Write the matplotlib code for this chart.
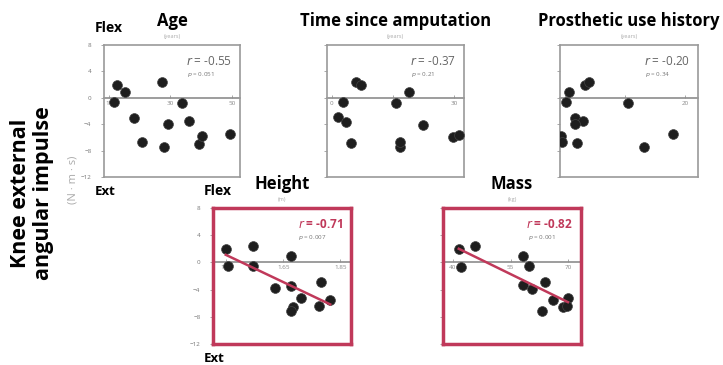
#!/usr/bin/env python3
"""
Knee external angular impulse vs. subject characteristics
"""
import matplotlib.pyplot as plt
import numpy as np

plt.rcParams['font.family'] = ['Open Sans', 'DejaVu Sans']

# ---- data ----
age_x = [11.6, 12.7, 15.1, 18.2, 20.7, 27.3, 28.0, 29.3, 33.8, 36.0, 39.3, 40.4, 49.3]
age_y = [-0.65, 2.0, 0.9, -3.1, -6.7, 2.35, -7.5, -4.0, -0.85, -3.5, -6.95, -5.8, -5.5]

time_x = [2.7, 6.0, 7.2, 1.6, 3.4, 4.6, 15.65, 18.8, 16.6, 16.6, 22.4, 29.7, 31.2]
time_y = [-0.6, 2.35, 1.95, -2.95, -3.6, -6.8, -0.85, 0.9, -7.5, -6.65, -4.1, -5.9, -5.6]

pros_x = [0.17, 0.67, 3.4, 4.05, 1.67, 3.05, 1.67, -0.67, -0.45, 2.05, 10.45, 18.05, 13.2]
pros_y = [-0.6, 0.9, 1.95, 2.35, -3.0, -3.5, -4.0, -5.8, -6.65, -6.9, -0.85, -5.5, -7.5]

height_x = [1.448, 1.454, 1.544, 1.544, 1.621, 1.677, 1.677, 1.713, 1.685, 1.677,
            1.774, 1.783, 1.815]
height_y = [1.97, -0.59, 2.35, -0.59, -3.77, 0.99, -3.43, -5.24, -6.56, -7.2,
            -6.47, -2.88, -5.49]

mass_x = [41.5, 42.2, 45.8, 58.3, 59.8, 58.3, 60.5, 63.9, 63.1, 66.1, 68.7, 69.9, 69.6]
mass_y = [1.97, -0.74, 2.35, 0.99, -0.59, -3.28, -3.91, -2.94, -7.2, -5.49, -6.56,
          -5.24, -6.37]

titles = ['Age', 'Time since amputation', 'Prosthetic use history', 'Height', 'Mass']
units = ['(years)', '(years)', '(years)', '(m)', '(kg)']
r_text = ['-0.55', '-0.37', '-0.20', '-0.71', '-0.82']
p_text = ['0.051', '0.21', '0.34', '0.007', '0.001']
x_ticks = [[10, 30, 50], [0, 15, 30], [0, 10, 20], [1.45, 1.65, 1.85], [40, 55, 70]]
x_ticklabels = [['10', '30', '50'], ['0', '15', '30'], ['0', '10', '20'],
                ['1.45', '1.65', '1.85'], ['40', '55', '70']]
x_lims = [(8.4, 52.6), (-1.2, 32.4), (-0.83, 22.2), (1.403, 1.888), (37.4, 73.3)]
y_ticks = [8, 4, 0, -4, -8, -12]

CRIMSON = '#c0395a'
GRAY = '#9a9a9a'
W, H = 723.0, 365.0


def px_rect(left, top, right, bottom):
    return [left / W, 1 - bottom / H, (right - left) / W, (bottom - top) / H]


def main():
    fig = plt.figure(figsize=(7.23, 3.65), dpi=100)
    rects = [px_rect(104, 45, 240, 177), px_rect(327, 45, 464, 177),
             px_rect(560, 45, 698, 177), px_rect(213, 208, 351, 344),
             px_rect(443, 208, 581, 344)]
    xs = [age_x, time_x, pros_x, height_x, mass_x]
    ys = [age_y, time_y, pros_y, height_y, mass_y]
    significant = [False, False, False, True, True]
    with_labels = [True, False, False, True, False]

    for i in range(5):
        ax = fig.add_axes(rects[i])
        ax.set_xlim(*x_lims[i])
        ax.set_ylim(-12, 8)
        ax.set_xticks([])
        ax.set_yticks(y_ticks)
        ax.tick_params(axis='y', length=2, width=0.6, color=GRAY,
                       labelsize=4.5, labelcolor='#777777', pad=7)
        if not with_labels[i]:
            ax.set_yticklabels([])
        edge = CRIMSON if significant[i] else GRAY
        for sp in ax.spines.values():
            sp.set_color(edge)
            sp.set_linewidth(2.5 if significant[i] else 1.2)

        # zero line carrying the x tick labels
        sec = ax.secondary_xaxis(12 / 20)
        sec.set_alignment('bottom')
        sec.set_xticks(x_ticks[i], x_ticklabels[i])
        sec.spines['bottom'].set_color('#8c8c8c')
        sec.spines['bottom'].set_linewidth(1.2)
        sec.tick_params(axis='x', direction='in', length=2, width=0.6, color=GRAY,
                        labelsize=4.5, labelcolor='#888888', pad=2)

        ax.scatter(xs[i], ys[i], s=50, color='#1e1e1e', edgecolor='#444444',
                   linewidth=0.5, zorder=3)
        if significant[i]:
            coef = np.polyfit(xs[i], ys[i], 1)
            xl = np.array([min(xs[i]), max(xs[i])])
            ax.plot(xl, np.polyval(coef, xl), color=CRIMSON, lw=1.8, zorder=4)

        ax.annotate(titles[i], xy=(0.5, 1), xycoords='axes fraction',
                    xytext=(0, 17), textcoords='offset points', ha='center',
                    va='center', fontsize=12, fontweight='bold')
        ax.annotate(units[i], xy=(0.5, 1), xycoords='axes fraction',
                    xytext=(0, 6), textcoords='offset points', ha='center',
                    va='center', fontsize=4, color='#aaaaaa')
        rcol = CRIMSON if significant[i] else '#666666'
        rw = 'bold' if significant[i] else 'normal'
        ax.annotate(r'$\it{r}$ = ' + r_text[i], xy=(1, 1), xycoords='axes fraction',
                    xytext=(-6, -12), textcoords='offset points', ha='right',
                    va='center', fontsize=8.5, color=rcol, fontweight=rw)
        ax.annotate(r'$\it{p}$ = ' + p_text[i], xy=(1, 1), xycoords='axes fraction',
                    xytext=(-38, -21), textcoords='offset points', ha='left',
                    va='center', fontsize=4.5, color='#777777')

        if with_labels[i]:
            ax.annotate('Flex', xy=(0, 1), xycoords='axes fraction',
                        xytext=(-7, 12), textcoords='offset points', ha='left',
                        va='center', fontsize=10, fontweight='bold')
            ax.annotate('Ext', xy=(0, 0), xycoords='axes fraction',
                        xytext=(-7, -10.5), textcoords='offset points', ha='left',
                        va='center', fontsize=9.5, fontweight='bold')

    fig.text(32 / W, 1 - 193 / H, 'Knee external\nangular impulse', rotation=90,
             ha='center', va='center', fontsize=15.5, fontweight='bold',
             linespacing=1.1)
    fig.text(73 / W, 1 - 180 / H, '(N · m · s)', rotation=90, ha='center',
             va='center', fontsize=8, color='#aaaaaa')

    fig.savefig('out.png', dpi=100)


if __name__ == "__main__":
    main()
